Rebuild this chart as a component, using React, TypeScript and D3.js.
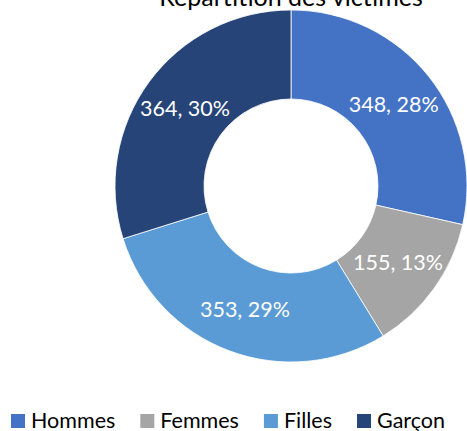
import React, { useEffect, useRef } from 'react';
import * as d3 from 'd3';

const categories = ['Hommes', 'Femmes', 'Filles', 'Garçon'];
const values = [348, 155, 353, 364];
// percentages as printed on the chart
const percents = [28, 13, 29, 30];
const colors = ['#4472C4', '#A5A5A5', '#5B9BD5', '#264478'];
const title = 'Répartition des victimes';

const W = 467;
const H = 431;

export default function App() {
  const ref = useRef<SVGSVGElement>(null);

  useEffect(() => {
    const svg = d3.select(ref.current);
    svg.selectAll('*').remove();
    const font = 'Lato, "Open Sans", sans-serif';

    const cx = 291, cy = 186, outer = 176, inner = 87;
    const pie = d3.pie<number>().value(d => d).sort(null);
    const arcs = pie(values);
    const arc = d3.arc<d3.PieArcDatum<number>>().innerRadius(inner).outerRadius(outer);

    const g = svg.append('g').attr('transform', `translate(${cx},${cy})`);
    g.selectAll('path')
      .data(arcs)
      .enter()
      .append('path')
      .attr('d', arc)
      .attr('fill', (d, i) => colors[i])
      .attr('stroke', '#fff')
      .attr('stroke-width', 0.8);

    // labels "value, pct"
    g.selectAll('text.lbl')
      .data(arcs)
      .enter()
      .append('text')
      .attr('class', 'lbl')
      .attr('transform', d => `translate(${arc.centroid(d)})`)
      .attr('text-anchor', 'middle')
      .attr('dy', '0.36em')
      .attr('fill', '#fff')
      .style('font-family', font)
      .style('font-size', '21.5px')
      .text((d, i) => `${d.data}, ${percents[i]}%`);

    svg.append('text')
      .attr('x', cx)
      .attr('y', 6)
      .attr('text-anchor', 'middle')
      .attr('fill', '#000')
      .style('font-family', font)
      .style('font-size', '25px')
      .text(title);

    // legend, laid out by measured text width
    const legend = svg.append('g').attr('transform', 'translate(11,428)');
    let x = 0;
    categories.forEach((c, i) => {
      const item = legend.append('g').attr('transform', `translate(${x},0)`);
      item.append('rect')
        .attr('x', 0).attr('y', -14)
        .attr('width', 14).attr('height', 14)
        .attr('fill', colors[i]);
      const t = item.append('text')
        .attr('x', 20)
        .attr('y', 0)
        .attr('fill', '#000')
        .style('font-family', font)
        .style('font-size', '21.5px')
        .text(c);
      const w = (t.node() as SVGTextElement).getComputedTextLength();
      x += 20 + w + 25;
    });
  }, []);

  return (
    <svg
      ref={ref}
      width={W}
      height={H}
      style={{ position: 'absolute', left: 0, top: 0, background: '#fff' }}
    />
  );
}
